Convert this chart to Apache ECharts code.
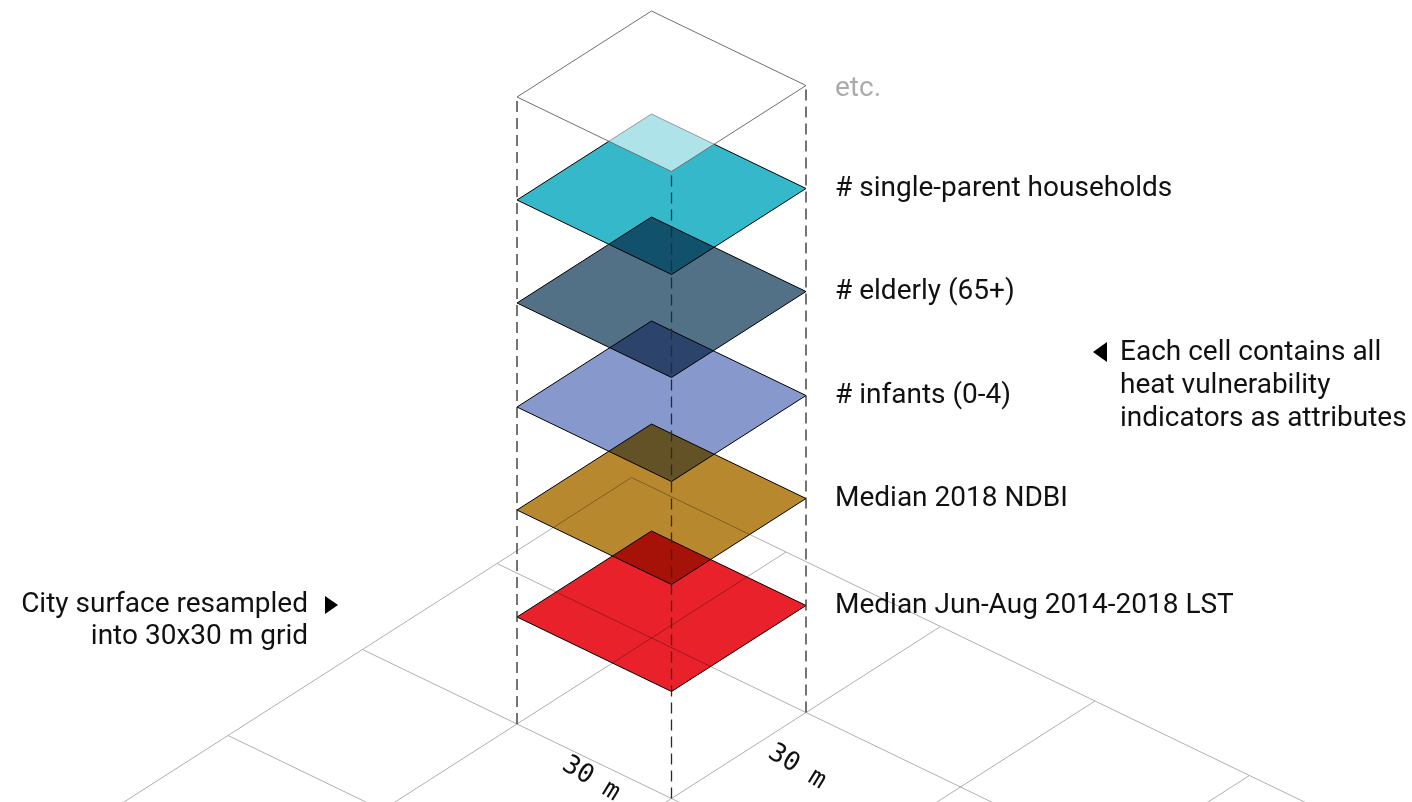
<!DOCTYPE html>
<html><head><meta charset="utf-8">
<script src="https://cdn.jsdelivr.net/npm/echarts@6/dist/echarts.min.js"></script>
<style>html,body{margin:0;padding:0;background:#fff}#c{width:1412px;height:802px}</style>
</head><body><div id="c"></div>
<script>
// ---- data ----
const layerNames = ['Median Jun-Aug 2014-2018 LST', 'Median 2018 NDBI', '# infants (0-4)', '# elderly (65+)', '# single-parent households', 'etc.'];
const layerElevations = [107, 214, 317, 421, 524, 627];   // height of each layer above the ground cell (drawing units)
const gridLinesA = [-1, 0, 1, 2, 3];
const gridLinesB = [-1, 0, 1, 2, 3];
const gridExtent = 8;
const cellLabels = ['30 m', '30 m'];
const leftNote = ['City surface resampled', 'into 30x30 m grid'];
const rightNote = ['Each cell contains all', 'heat vulnerability', 'indicators as attributes'];

// ---- styles ----
const layerFill = ['#e8212a', '#b8882e', '#8799cc', '#527086', '#36b8cb', 'rgba(255,255,255,0.6)'];
const layerStroke = ['#000', '#000', '#000', '#000', '#000', '#707070'];
const FONT = 'Roboto, "Noto Sans", sans-serif';
const FS = 28;

// axonometric projection of the cell model
const O = [651.5, 638], U = [-134.5, 86], V = [154.5, 74.5];
function proj(a, b, z) { return [O[0] + a * U[0] + b * V[0], O[1] + a * U[1] + b * V[1] - z]; }

const chart = echarts.init(document.getElementById('c'), null, { renderer: 'canvas' });

const gridData = gridLinesA.map(k => [0, k]).concat(gridLinesB.map(k => [1, k]));
const layerData = layerElevations.map((z, i) => [i, z]);
const nL = layerElevations.length;
const topZ = layerElevations[nL - 1];
const vertData = [[1, 0], [0, 1], [1, 1]];

function C(api, p) { return api.coord(p); }

function layerItem(params, api) {
  const i = api.value(0), z = api.value(1);
  const pts = [proj(0, 0, z), proj(0, 1, z), proj(1, 1, z), proj(1, 0, z)].map(p => C(api, p));
  return { type: 'polygon', z2: i * 10, shape: { points: pts },
    style: { fill: layerFill[i], stroke: layerStroke[i], lineWidth: 1, lineJoin: 'miter' } };
}

const option = {
  animation: false,
  backgroundColor: '#ffffff',
  grid: { left: 0, right: 0, top: 0, bottom: 0 },
  xAxis: { type: 'value', min: 0, max: 1412, show: false },
  yAxis: { type: 'value', min: 0, max: 802, inverse: true, show: false },
  series: [
    { // ground grid
      type: 'custom', silent: true, clip: true, z: 1,
      data: gridData,
      renderItem: function (params, api) {
        const kind = api.value(0), k = api.value(1);
        let p1, p2;
        if (kind === 0) { p1 = proj(k, -1, 0); p2 = proj(k, gridExtent, 0); }
        else { p1 = proj(-1, k, 0); p2 = proj(gridExtent, k, 0); }
        const a = C(api, p1), b = C(api, p2);
        return { type: 'line', shape: { x1: a[0], y1: a[1], x2: b[0], y2: b[1] },
          style: { stroke: '#b0b0b0', lineWidth: 1, fill: null } };
      }
    },
    { // stacked indicator layers (multiplied, so overlaps darken)
      type: 'custom', silent: true, clip: true, z: 2, blendMode: 'multiply',
      data: layerData.slice(0, nL - 1),
      renderItem: layerItem
    },
    { // top "etc." layer (translucent white)
      type: 'custom', silent: true, clip: true, z: 3,
      data: layerData.slice(nL - 1),
      renderItem: layerItem
    },
    { // dashed vertical edges
      type: 'custom', silent: true, clip: true, z: 4,
      data: vertData,
      renderItem: function (params, api) {
        const a = api.value(0), b = api.value(1);
        const p1 = C(api, proj(a, b, 0)), p2 = C(api, proj(a, b, topZ));
        return { type: 'line', shape: { x1: p1[0], y1: p1[1], x2: p2[0], y2: p2[1] },
          style: { stroke: '#2a2a2a', lineWidth: 1.3, lineDash: [11, 6], fill: null } };
      }
    },
    { // layer labels
      type: 'custom', silent: true, clip: false, z: 5,
      data: layerData,
      renderItem: function (params, api) {
        const i = api.value(0), z = api.value(1);
        const p = C(api, proj(0, 1, z));
        return { type: 'text', x: p[0] + 29, y: p[1] + (i === nL - 1 ? 3 : 0),
          style: { text: layerNames[i], fill: i === nL - 1 ? '#ababab' : '#111', font: FS + 'px ' + FONT,
            align: 'left', verticalAlign: 'middle', textAlign: 'left', textVerticalAlign: 'middle' } };
      }
    },
    { // notes, triangles and dimension labels
      type: 'custom', silent: true, clip: false, z: 6,
      data: [[0]],
      renderItem: function (params, api) {
        const ch = [];
        leftNote.forEach((t, j) => {
          const p = C(api, [308, 605 + j * 32]);
          ch.push({ type: 'text', x: p[0], y: p[1], style: { text: t, fill: '#111', font: FS + 'px ' + FONT,
            align: 'right', verticalAlign: 'middle', textAlign: 'right', textVerticalAlign: 'middle' } });
        });
        rightNote.forEach((t, j) => {
          const p = C(api, [1120, 353 + j * 33]);
          ch.push({ type: 'text', x: p[0], y: p[1], style: { text: t, fill: '#111', font: FS + 'px ' + FONT,
            align: 'left', verticalAlign: 'middle', textAlign: 'left', textVerticalAlign: 'middle' } });
        });
        ch.push({ type: 'polygon', shape: { points: [[325, 596], [338, 605], [325, 614]].map(p => C(api, p)) }, style: { fill: '#000' } });
        ch.push({ type: 'polygon', shape: { points: [[1107, 342], [1093, 352], [1107, 362]].map(p => C(api, p)) }, style: { fill: '#000' } });
        const lp = [[591, 779], [797, 767]];
        cellLabels.forEach((t, j) => {
          const p = C(api, lp[j]);
          ch.push({ type: 'text', x: p[0], y: p[1], rotation: -0.55,
            style: { text: t, fill: '#111', font: '26px "DejaVu Sans Mono", monospace',
              align: 'center', verticalAlign: 'middle', textAlign: 'center', textVerticalAlign: 'middle' } });
        });
        return { type: 'group', children: ch };
      }
    }
  ]
};
chart.setOption(option);
</script></body></html>
